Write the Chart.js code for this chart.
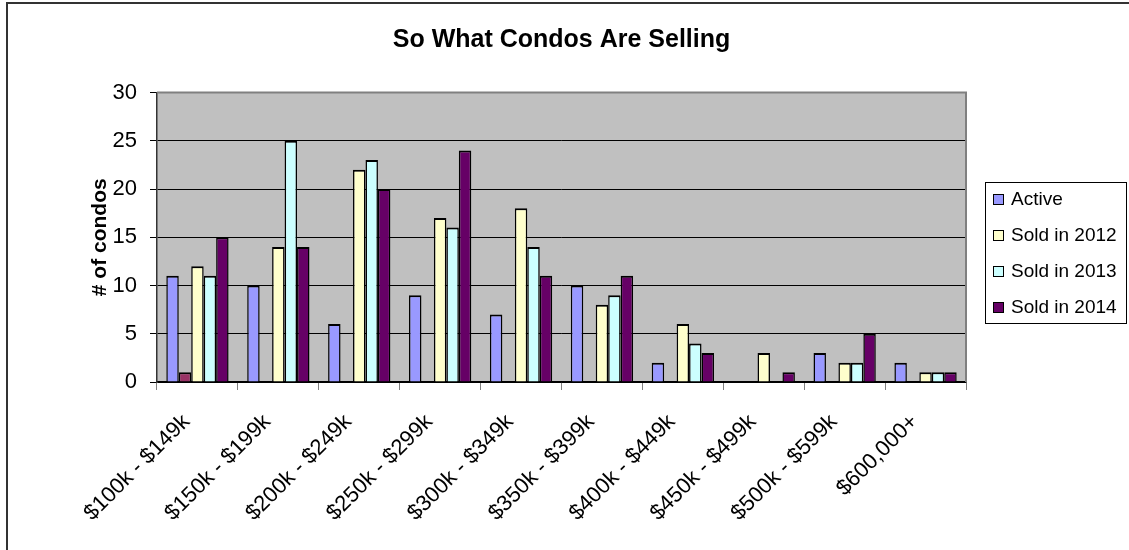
<!DOCTYPE html>
<html>
<head>
<meta charset="utf-8">
<title>So What Condos Are Selling</title>
<script src="https://cdn.jsdelivr.net/npm/chart.js@4.4.1/dist/chart.umd.min.js"></script>
<style>
  html, body { margin: 0; padding: 0; background: #fff; }
  canvas { display: block; }
</style>
</head>
<body>
<canvas id="condoChart" width="1129" height="550"></canvas>
<script>
'use strict';

// price ranges along the bottom
const categories = ['$100k - $149k', '$150k - $199k', '$200k - $249k', '$250k - $299k', '$300k - $349k',
  '$350k - $399k', '$400k - $449k', '$450k - $499k', '$500k - $599k', '$600,000+'];

// counts per price range
const active   = [11, 10, 6, 9, 7, 10, 2, 0, 3, 2];
const unnamed  = [1, 0, 0, 0, 0, 0, 0, 0, 0, 0];   // stray series, no legend entry
const sold2012 = [12, 14, 22, 17, 18, 8, 6, 3, 2, 1];
const sold2013 = [11, 25, 23, 16, 14, 9, 4, 0, 2, 1];
const sold2014 = [15, 14, 20, 24, 11, 11, 3, 1, 5, 1];

const yTicks = [0, 5, 10, 15, 20, 25, 30];

const chartTitle = 'So What Condos Are Selling';

const FONT = "'Liberation Sans', Arial, Helvetica, sans-serif";

function makeSet(label, values, color, inLegend) {
    return {
        label: label,
        data: values,
        backgroundColor: color,
        borderColor: '#000',
        borderWidth: { top: 2, left: 1.5, right: 1.5, bottom: 0 },
        borderSkipped: false,
        inLegend: inLegend
    };
}

// gray plot background, frame around the whole chart, plot border, title over the plot
const backdrop = {
    id: 'backdrop',
    beforeDraw(chart) {
        const ctx = chart.ctx;
        const a = chart.chartArea;
        ctx.save();
        ctx.fillStyle = '#fff';
        ctx.fillRect(0, 0, chart.width, chart.height);
        ctx.fillStyle = '#c0c0c0';
        ctx.fillRect(a.left, a.top, a.right - a.left, a.bottom - a.top);
        ctx.restore();
    },
    afterDraw(chart) {
        const ctx = chart.ctx;
        const a = chart.chartArea;
        ctx.save();
        ctx.strokeStyle = '#808080';
        ctx.lineWidth = 2;
        ctx.beginPath();
        ctx.moveTo(a.left, a.top);
        ctx.lineTo(a.right, a.top);
        ctx.lineTo(a.right, a.bottom);
        ctx.stroke();
        ctx.strokeStyle = '#333';
        ctx.lineWidth = 2;
        ctx.strokeRect(7, 3, 1400, 800);

        ctx.fillStyle = '#000';
        ctx.font = 'bold 25px ' + FONT;
        ctx.textAlign = 'center';
        ctx.textBaseline = 'middle';
        ctx.fillText(chartTitle, (a.left + a.right) / 2, 40);
        ctx.restore();
    }
};

// boxed legend on the right, like the spreadsheet one
const boxLegend = {
    id: 'boxLegend',
    afterDraw(chart) {
        const ctx = chart.ctx;
        const sets = chart.data.datasets.filter(d => d.inLegend);
        ctx.save();
        ctx.strokeStyle = '#000';
        ctx.lineWidth = 1;
        ctx.strokeRect(985.5, 182.5, 141, 141);
        ctx.font = '19px ' + FONT;
        ctx.textBaseline = 'middle';
        ctx.textAlign = 'left';
        sets.forEach((d, i) => {
            const y = 200 + i * 36;
            ctx.fillStyle = d.backgroundColor;
            ctx.fillRect(993.5, y - 5.5, 10, 10);
            ctx.strokeRect(993.5, y - 5.5, 10, 10);
            ctx.fillStyle = '#000';
            ctx.fillText(d.label, 1011, y);
        });
        ctx.restore();
    }
};

const ctx = document.getElementById('condoChart').getContext('2d');
const chart = new Chart(ctx, {
    type: 'bar',
    data: {
        labels: categories,
        datasets: [
            makeSet('Active', active, '#9999ff', true),
            makeSet('', unnamed, '#993366', false),
            makeSet('Sold in 2012', sold2012, '#ffffcc', true),
            makeSet('Sold in 2013', sold2013, '#ccffff', true),
            makeSet('Sold in 2014', sold2014, '#660066', true)
        ]
    },
    options: {
        responsive: false,
        animation: false,
        layout: { padding: { left: 60, right: 163, top: 92.5, bottom: 0 } },
        datasets: { bar: { categoryPercentage: 0.77, barPercentage: 1.0 } },
        plugins: {
            legend: { display: false },
            tooltip: { enabled: false },
            title: { display: false }
        },
        scales: {
            x: {
                grid: { display: true, drawOnChartArea: false, drawTicks: true, tickLength: 8, tickColor: '#808080', offset: true },
                border: { color: '#000', width: 1.5 },
                ticks: {
                    color: '#000',
                    font: { family: FONT, size: 22 },
                    minRotation: 45,
                    maxRotation: 45,
                    autoSkip: false,
                    padding: 19,
                    labelOffset: -11
                },
                afterFit(scale) { scale.height = 168; }
            },
            y: {
                min: 0,
                max: 30,
                afterBuildTicks(scale) { scale.ticks = yTicks.map(v => ({ value: v })); },
                grid: { color: '#000', lineWidth: 1, tickLength: 7, tickColor: '#000' },
                border: { color: '#333', width: 1.5 },
                ticks: {
                    color: '#000',
                    font: { family: FONT, size: 22 },
                    padding: 13
                },
                title: {
                    display: true,
                    text: '# of condos',
                    color: '#000',
                    font: { family: FONT, size: 21, weight: 'bold' },
                    padding: { top: 28, bottom: 0 }
                },
                afterFit(scale) { scale.width = 97; }
            }
        }
    },
    plugins: [backdrop, boxLegend]
});
</script>
</body>
</html>
